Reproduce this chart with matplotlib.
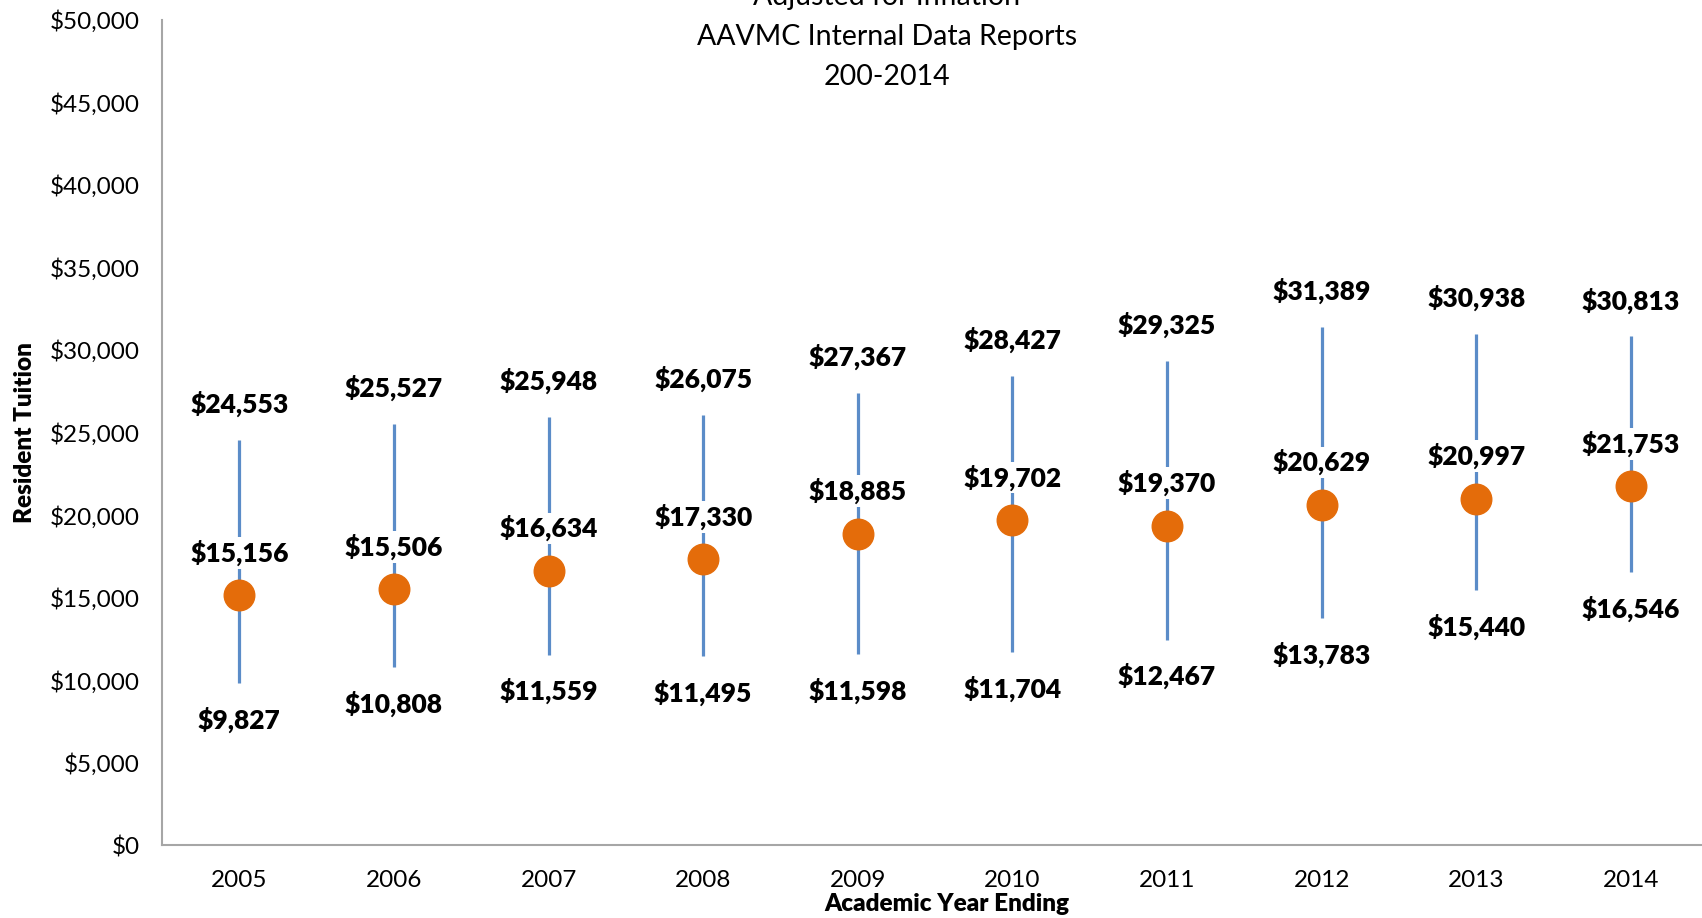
import matplotlib
matplotlib.use("Agg")
import matplotlib.pyplot as plt

plt.rcParams['font.family'] = ['Lato', 'DejaVu Sans']

years = ['2005', '2006', '2007', '2008', '2009', '2010', '2011', '2012', '2013', '2014']
tuition_max = [24553, 25527, 25948, 26075, 27367, 28427, 29325, 31389, 30938, 30813]
tuition_mean = [15156, 15506, 16634, 17330, 18885, 19702, 19370, 20629, 20997, 21753]
tuition_min = [9827, 10808, 11559, 11495, 11598, 11704, 12467, 13783, 15440, 16546]
title_lines = ['Adjusted for Inflation', 'AAVMC Internal Data Reports', '200-2014']

fig = plt.figure(figsize=(17.02, 9.18), dpi=100)
ax = fig.add_axes([0.0952, 0.0790, 0.9048, 0.8997])

x = list(range(len(years)))
line_col = '#5B8CC8'
dot_col = '#E46C0A'

# high-low lines
ax.vlines(x, tuition_min, tuition_max, color=line_col, lw=2.3, zorder=1)
ax.plot(x, tuition_mean, 'o', ms=22, color=dot_col, mec=dot_col, zorder=3, ls='none')

lab_kw = dict(textcoords='offset points', ha='center', va='center',
              fontsize=19, fontweight='heavy', color='black')
for i in x:
    ax.annotate(f"${tuition_max[i]:,}", (i, tuition_max[i]), xytext=(0, 26), **lab_kw)
    ax.annotate(f"${tuition_min[i]:,}", (i, tuition_min[i]), xytext=(0, -26.5), **lab_kw)
    ax.annotate(f"${tuition_mean[i]:,}", (i, tuition_mean[i]), xytext=(0, 30.5),
                bbox=dict(boxstyle='square,pad=0.1', fc='white', ec='none'), zorder=2, **lab_kw)

ax.set_xlim(-0.5, 9.46)
ax.set_ylim(0, 50000)
ax.set_xticks(x)
ax.set_xticklabels(years)
ax.set_yticks(range(0, 50001, 5000))
ax.set_yticklabels([f"${v:,}" for v in range(0, 50001, 5000)])
ax.tick_params(axis='both', length=0, labelsize=17.5)
ax.tick_params(axis='x', pad=18)
ax.tick_params(axis='y', pad=16)

for s in ['top', 'right']:
    ax.spines[s].set_visible(False)
for s in ['left', 'bottom']:
    ax.spines[s].set_color('#A6A6A6')
    ax.spines[s].set_linewidth(1.5)

ax.set_xlabel('Academic Year Ending', fontsize=17.5, fontweight='heavy', va='center')
ax.xaxis.set_label_coords(0.5095, -0.071)
ax.set_ylabel('Resident Tuition', fontsize=17.5, fontweight='heavy', labelpad=10)

for k, t in enumerate(title_lines):
    fig.text(0.521, 1 + 3 / 918 - k * 40 / 918, t, ha='center', va='center', fontsize=20.5)

fig.savefig('out.png', dpi=100)
